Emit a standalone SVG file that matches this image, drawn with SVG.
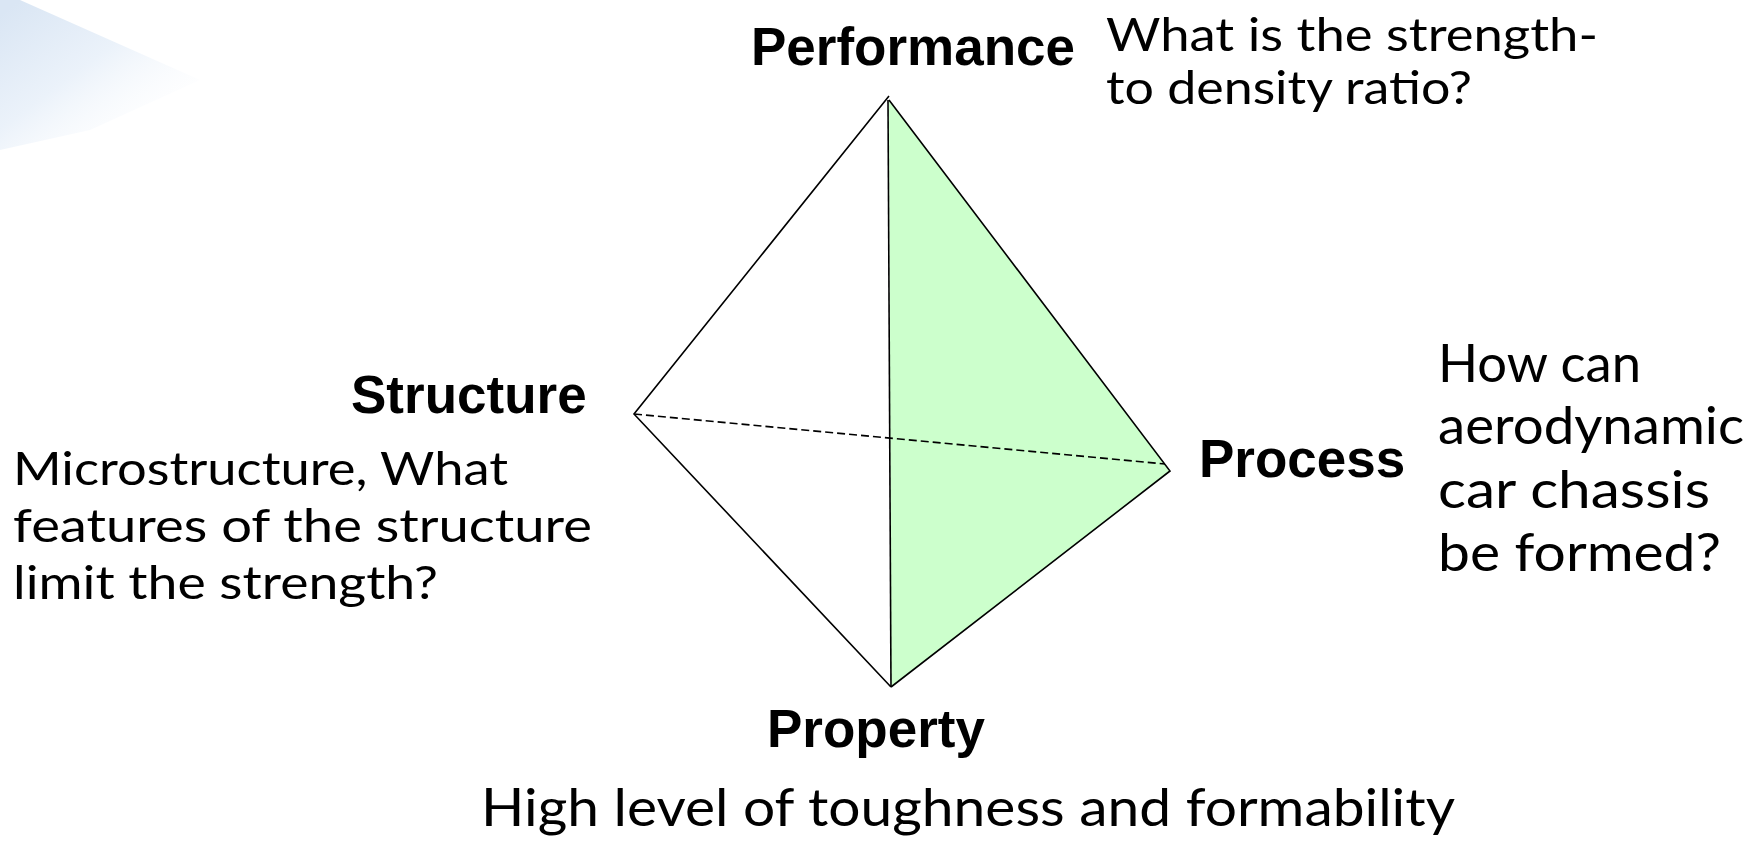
<svg xmlns="http://www.w3.org/2000/svg" width="1762" height="841" viewBox="0 0 1762 841">
  <defs>
    <linearGradient id="cornerFade" x1="0" y1="0.1" x2="0.85" y2="0.95">
      <stop offset="0" stop-color="#dae6f4"/>
      <stop offset="0.45" stop-color="#ebf2fa"/>
      <stop offset="1" stop-color="#ffffff" stop-opacity="0"/>
    </linearGradient>
  </defs>
  <style>
    .label { font-family: "Liberation Sans", Arial, sans-serif; font-weight: bold; font-size: 53px; fill: #000; }
    .note { font-family: "Comic Sans MS", "Lato", "Open Sans", sans-serif; fill: #000; }
    .edge { stroke: #000; stroke-width: 1.6; fill: none; stroke-linejoin: miter; }
    .hidden { stroke: #000; stroke-width: 1.6; fill: none; stroke-dasharray: 8 4; }
  </style>

  <rect width="1762" height="841" fill="#ffffff"/>

  <!-- faint decorative wedge in the top-left corner -->
  <polygon points="0,0 20,0 200,80 90,130 0,150" fill="url(#cornerFade)"/>

  <!-- tetrahedron faces and edges -->
  <g id="connectors">
    <polygon id="face-green" points="889,100 1170,471 891,687" fill="#ccffcc" stroke="none"/>
    <line class="hidden" x1="634" y1="414" x2="1165" y2="464"/>
    <polyline class="edge" points="889,96 634,414 891,687"/>
    <line class="edge" x1="888" y1="100" x2="891" y2="687"/>
    <polyline class="edge" points="889,100 1170,471 891,687"/>
  </g>

  <g id="node-performance">
    <text class="label" x="751" y="65">Performance</text>
    <text class="note" font-size="46">
      <tspan x="1106" y="51" textLength="492" lengthAdjust="spacingAndGlyphs">What is the strength-</tspan>
      <tspan x="1106" y="104" textLength="366" lengthAdjust="spacingAndGlyphs">to density ratio?</tspan>
    </text>
  </g>

  <g id="node-structure">
    <text class="label" x="351" y="413">Structure</text>
    <text class="note" font-size="46">
      <tspan x="13" y="485" textLength="495" lengthAdjust="spacingAndGlyphs">Microstructure, What</tspan>
      <tspan x="13" y="542" textLength="579" lengthAdjust="spacingAndGlyphs">features of the structure</tspan>
      <tspan x="13" y="599" textLength="425" lengthAdjust="spacingAndGlyphs">limit the strength?</tspan>
    </text>
  </g>

  <g id="node-process">
    <text class="label" x="1199" y="477">Process</text>
    <text class="note" font-size="52">
      <tspan x="1438" y="382" textLength="203" lengthAdjust="spacingAndGlyphs">How can</tspan>
      <tspan x="1438" y="444" textLength="306" lengthAdjust="spacingAndGlyphs">aerodynamic</tspan>
      <tspan x="1438" y="508" textLength="272" lengthAdjust="spacingAndGlyphs">car chassis</tspan>
      <tspan x="1438" y="571" textLength="283" lengthAdjust="spacingAndGlyphs">be formed?</tspan>
    </text>
  </g>

  <g id="node-property">
    <text class="label" x="767" y="747">Property</text>
    <text class="note" font-size="53">
      <tspan x="481" y="826" textLength="974" lengthAdjust="spacingAndGlyphs">High level of toughness and formability</tspan>
    </text>
  </g>
</svg>
